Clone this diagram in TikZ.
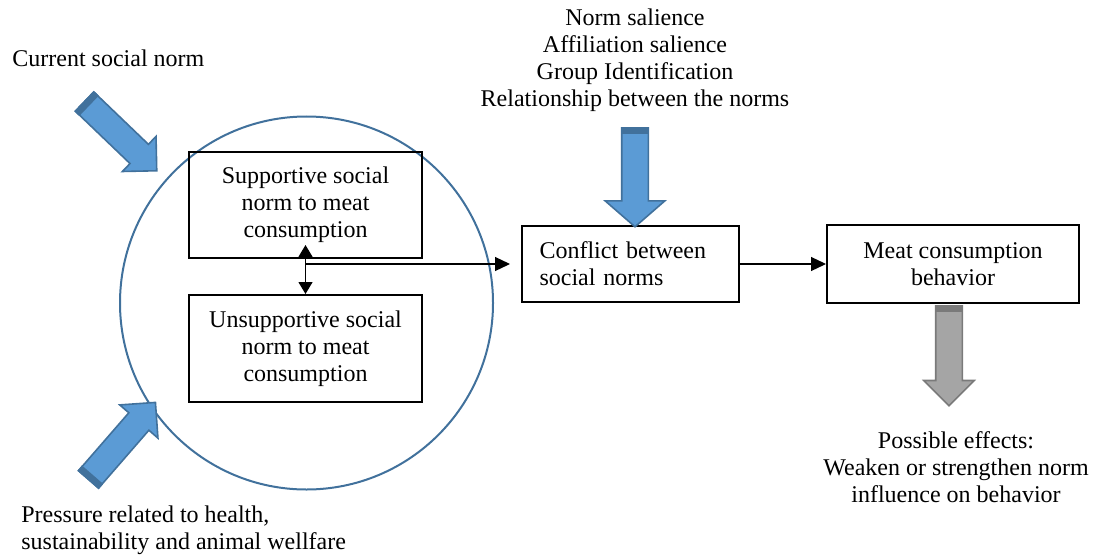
\documentclass[tikz,border=0pt]{standalone}
\usepackage{fontspec}
\setmainfont{Liberation Serif}
\usetikzlibrary{calc, positioning, shapes, arrows.meta}
\definecolor{arrowblue}{HTML}{5B9BD5}
\definecolor{arrowedge}{HTML}{41719C}
\definecolor{arrowgray}{HTML}{A5A5A5}
\definecolor{grayedge}{HTML}{7A7A7A}
\tikzstyle{normbox}=[draw, line width=1pt, inner sep=0pt, align=center, minimum width=116.5pt, minimum height=53pt]
\tikzstyle{blockarrow}=[single arrow, draw=arrowedge, fill=arrowblue, line width=0.8pt, inner xsep=0pt, inner ysep=6.25pt, anchor=tail]
\tikzstyle{link}=[-{Triangle[length=7.5pt,width=7pt]}, line width=0.6pt]

\begin{document}
\begin{tikzpicture}[x=0.5pt, y=-0.5pt, every node/.style={font=\fontsize{12}{13.5}\selectfont, inner sep=0pt}]
		\useasboundingbox (0,0) rectangle (1096,556);

		\node[circle, draw=arrowedge, line width=1pt, minimum size=186.5pt] (normcircle) at (306.5,303) {};

		\node[normbox] (supp) at (305.5,205) {Supportive social\\norm to meat\\consumption};
		\node[normbox, minimum height=53.5pt, below=17.5pt of supp] (unsupp) {Unsupportive social\\norm to meat\\consumption};
		\node[draw, line width=1pt, minimum width=108.5pt, minimum height=38pt, text width=91pt, align=left] (conflict) at (630.5,264) {Conflict between\\social norms};
		\node[normbox, minimum width=126pt, minimum height=39pt, right=43pt of conflict] (behavior) {Meat consumption\\behavior};

		\draw[{Triangle[length=6pt,width=7pt]}-{Triangle[length=6pt,width=7pt]}, line width=0.6pt] ([yshift=7pt]supp.south) -- (unsupp.north);
		\draw[link, shorten >=5.5pt] (supp.south |- conflict.west) -- (conflict.west);
		\draw[link] (conflict.east) -- (behavior.west |- conflict.east);

		% block arrows
		\node[blockarrow, rotate=-43.8, minimum height=50pt, single arrow head extend=5.5pt] (curarrow) at (84,101) {};
		\node[blockarrow, rotate=49, minimum height=51pt, single arrow head extend=6pt] (pressarrow) at (88,480) {};
		\node[blockarrow, rotate=-90, minimum height=49.5pt, single arrow head extend=8.25pt, single arrow tip angle=98] (factarrow) at (635,127) {};
		\node[blockarrow, draw=grayedge, fill=arrowgray, rotate=-90, minimum height=50pt, single arrow head extend=6pt] (effectarrow) at (949,305) {};

		\foreach \a/\c in {curarrow/arrowedge, pressarrow/arrowedge, factarrow/arrowedge, effectarrow/grayedge}
		\fill[\c] (\a.before tail) -- ($(\a.before tail)!3.5pt!(\a.after head)$) -- ($(\a.after tail)!3.5pt!(\a.before head)$) -- (\a.after tail) -- cycle;

		\node[anchor=west] (curnorm) at (12,58) {Current social norm};
		\node[anchor=west, align=left] (pressure) at (21,530) {Pressure related to health,\\sustainability and animal wellfare};
		\node[align=center] (factors) at (635,60) {Norm salience\\Affiliation salience\\Group Identification\\Relationship between the norms};
		\node[align=center] (effects) at (956,467) {Possible effects:\\Weaken or strengthen norm\\influence on behavior};

	\end{tikzpicture}
\end{document}
